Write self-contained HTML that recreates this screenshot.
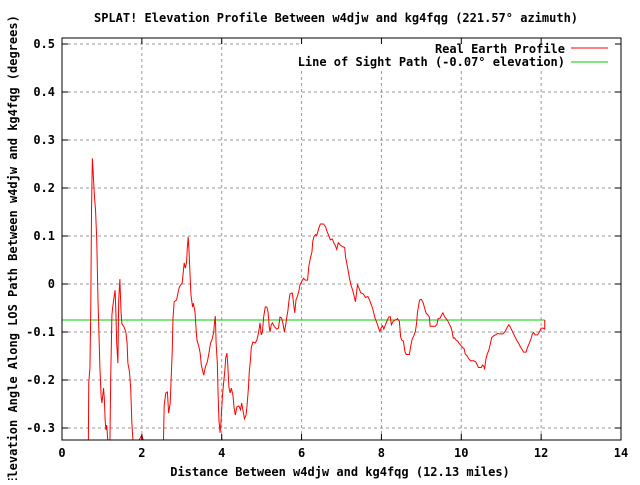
<!DOCTYPE html>
<html><head><meta charset="utf-8"><style>
body{margin:0;background:#fff}
svg text{font-family:"DejaVu Sans Mono","Liberation Mono",monospace;font-size:12px;font-weight:bold;fill:#000}
</style></head><body>
<svg id="chart" width="640" height="480" viewBox="0 0 640 480" xmlns="http://www.w3.org/2000/svg">
<defs><clipPath id="clip"><rect x="62" y="38" width="559" height="402"/></clipPath></defs>
<rect width="640" height="480" fill="#fff"/>
<g id="grid"></g>
<rect x="300" y="39" width="320" height="30" fill="#fff"/>
<g id="series" clip-path="url(#clip)"></g>
<rect x="62" y="38" width="559" height="402" fill="none" stroke="#000" stroke-width="1"/>
<g id="ticks"></g>
<text x="336" y="22" text-anchor="middle">SPLAT! Elevation Profile Between w4djw and kg4fqg (221.57° azimuth)</text>
<text x="340" y="476" text-anchor="middle">Distance Between w4djw and kg4fqg (12.13 miles)</text>
<text transform="translate(17,250) rotate(-90)" text-anchor="middle">Elevation Angle Along LOS Path Between w4djw and kg4fqg (degrees)</text>
<g>
<text x="565" y="53" text-anchor="end">Real Earth Profile</text>
<line x1="571" y1="48" x2="608" y2="48" stroke="#f00" stroke-width="1"/>
<text x="565" y="66" text-anchor="end">Line of Sight Path (-0.07° elevation)</text>
<line x1="571" y1="62" x2="608" y2="62" stroke="#0c0" stroke-width="1"/>
</g>
</svg>
<script>
const xTicks=[0,2,4,6,8,10,12,14];
const yTicks=[0.5,0.4,0.3,0.2,0.1,0,-0.1,-0.2,-0.3];
const yTickLabels=["0.5","0.4","0.3","0.2","0.1","0","-0.1","-0.2","-0.3"];
const distances=[0.66,0.67,0.70,0.72,0.74,0.76,0.78,0.81,0.84,0.87,0.90,0.93,0.95,0.98,1.0,1.04,1.06,1.08,1.10,1.12,1.15,1.20,1.22,1.25,1.27,1.30,1.33,1.35,1.37,1.40,1.42,1.45,1.46,1.48,1.50,1.55,1.60,1.63,1.65,1.69,1.72,1.75,1.78,1.90,1.95,2.0,2.05,2.54,2.56,2.60,2.64,2.67,2.71,2.73,2.76,2.78,2.81,2.87,2.91,2.94,3.01,3.06,3.09,3.12,3.14,3.16,3.18,3.21,3.23,3.27,3.29,3.33,3.36,3.38,3.43,3.46,3.49,3.55,3.59,3.64,3.68,3.72,3.76,3.80,3.82,3.84,3.86,3.89,3.91,3.93,3.96,3.98,4.02,4.05,4.08,4.10,4.13,4.15,4.18,4.21,4.24,4.28,4.31,4.34,4.38,4.43,4.47,4.50,4.54,4.57,4.61,4.64,4.67,4.69,4.72,4.74,4.78,4.84,4.88,4.91,4.94,4.96,4.99,5.02,5.05,5.09,5.13,5.16,5.19,5.21,5.24,5.27,5.32,5.38,5.42,5.46,5.50,5.53,5.57,5.61,5.63,5.66,5.68,5.71,5.74,5.77,5.81,5.83,5.86,5.89,5.93,5.96,6.02,6.05,6.09,6.15,6.18,6.22,6.26,6.28,6.31,6.35,6.38,6.43,6.47,6.55,6.60,6.64,6.68,6.72,6.77,6.81,6.84,6.88,6.92,6.97,7.02,7.08,7.10,7.14,7.17,7.20,7.24,7.28,7.31,7.35,7.38,7.40,7.44,7.48,7.55,7.60,7.66,7.70,7.74,7.78,7.81,7.84,7.89,7.93,7.96,7.99,8.03,8.06,8.10,8.15,8.18,8.22,8.25,8.29,8.34,8.38,8.40,8.45,8.48,8.51,8.55,8.59,8.62,8.70,8.73,8.77,8.81,8.85,8.88,8.90,8.94,8.96,9.00,9.05,9.08,9.12,9.16,9.20,9.22,9.29,9.35,9.39,9.42,9.47,9.51,9.54,9.58,9.62,9.67,9.71,9.74,9.77,9.80,9.83,9.87,9.91,9.95,9.99,10.03,10.07,10.10,10.14,10.18,10.23,10.31,10.36,10.39,10.43,10.50,10.53,10.57,10.58,10.62,10.65,10.69,10.73,10.76,10.81,10.86,10.91,10.95,10.99,11.04,11.10,11.15,11.19,11.23,11.27,11.31,11.35,11.40,11.44,11.48,11.52,11.56,11.62,11.66,11.70,11.75,11.78,11.81,11.85,11.91,11.95,12.0,12.05,12.09,12.09];
const angles=[-0.33,-0.206,-0.175,-0.054,0.158,0.262,0.233,0.185,0.154,0.092,-0.029,-0.117,-0.175,-0.235,-0.248,-0.217,-0.238,-0.283,-0.304,-0.294,-0.33,-0.33,-0.196,-0.065,-0.048,-0.029,-0.013,-0.06,-0.123,-0.165,-0.033,0.01,-0.016,-0.06,-0.083,-0.089,-0.1,-0.123,-0.165,-0.183,-0.217,-0.29,-0.33,-0.33,-0.322,-0.315,-0.33,-0.33,-0.252,-0.227,-0.225,-0.269,-0.248,-0.204,-0.142,-0.071,-0.037,-0.033,-0.016,-0.006,0.002,0.044,0.033,0.046,0.077,0.098,0.071,0.013,-0.023,-0.048,-0.04,-0.058,-0.096,-0.117,-0.131,-0.144,-0.169,-0.19,-0.173,-0.162,-0.144,-0.123,-0.115,-0.1,-0.079,-0.067,-0.123,-0.165,-0.231,-0.283,-0.31,-0.288,-0.231,-0.204,-0.179,-0.154,-0.144,-0.165,-0.215,-0.227,-0.217,-0.231,-0.258,-0.273,-0.256,-0.254,-0.262,-0.248,-0.267,-0.281,-0.273,-0.248,-0.215,-0.183,-0.158,-0.133,-0.121,-0.123,-0.117,-0.106,-0.092,-0.081,-0.106,-0.1,-0.069,-0.048,-0.048,-0.058,-0.089,-0.1,-0.085,-0.081,-0.089,-0.094,-0.092,-0.069,-0.071,-0.081,-0.1,-0.081,-0.069,-0.054,-0.037,-0.021,-0.019,-0.019,-0.048,-0.06,-0.033,-0.027,-0.016,-0.002,0.008,0.012,0.008,0.008,0.036,0.054,0.067,0.088,0.099,0.103,0.101,0.116,0.125,0.125,0.119,0.109,0.101,0.092,0.094,0.085,0.081,0.072,0.086,0.081,0.078,0.076,0.057,0.04,0.026,0.012,-0.003,-0.013,-0.023,-0.037,-0.016,-0.002,-0.009,-0.018,-0.021,-0.028,-0.026,-0.033,-0.042,-0.051,-0.061,-0.071,-0.082,-0.092,-0.099,-0.092,-0.087,-0.094,-0.085,-0.075,-0.069,-0.068,-0.085,-0.078,-0.075,-0.074,-0.072,-0.078,-0.11,-0.117,-0.119,-0.141,-0.147,-0.147,-0.131,-0.115,-0.108,-0.099,-0.082,-0.061,-0.04,-0.033,-0.032,-0.04,-0.05,-0.061,-0.064,-0.069,-0.088,-0.088,-0.088,-0.084,-0.072,-0.071,-0.064,-0.06,-0.068,-0.072,-0.078,-0.085,-0.09,-0.099,-0.113,-0.112,-0.117,-0.119,-0.124,-0.128,-0.132,-0.135,-0.146,-0.149,-0.155,-0.16,-0.16,-0.162,-0.167,-0.174,-0.174,-0.169,-0.172,-0.178,-0.155,-0.146,-0.138,-0.124,-0.112,-0.108,-0.106,-0.103,-0.104,-0.104,-0.104,-0.099,-0.09,-0.085,-0.09,-0.097,-0.104,-0.111,-0.119,-0.124,-0.131,-0.136,-0.142,-0.142,-0.132,-0.124,-0.113,-0.104,-0.101,-0.106,-0.106,-0.101,-0.092,-0.092,-0.094,-0.075];
const losDistance=[0,12.09];
const losAngle=[-0.075,-0.075];

const X0=62,X1=621,Y0=440,Y1=38,xMin=0,xMax=14,yMin=-0.325,yMax=0.5125;
const sx=d=>X0+(d-xMin)/(xMax-xMin)*(X1-X0);
const sy=a=>Y0-(a-yMin)/(yMax-yMin)*(Y0-Y1);
const NS="http://www.w3.org/2000/svg";
function mk(tag,attrs,parent){const e=document.createElementNS(NS,tag);for(const k in attrs)e.setAttribute(k,attrs[k]);parent.appendChild(e);return e;}
const grid=document.getElementById('grid'),ticks=document.getElementById('ticks'),series=document.getElementById('series');
xTicks.forEach((t,i)=>{
  const x=sx(t);
  if(i>0&&i<xTicks.length-1){const g=mk('line',{x1:x,y1:Y0,x2:x,y2:Y1,stroke:'#999','stroke-dasharray':'3,3'},grid);
  
  }
  const a=mk('line',{x1:x,y1:Y0,x2:x,y2:Y0-6,stroke:'#000'},ticks);
  
  
  const b=mk('line',{x1:x,y1:Y1,x2:x,y2:Y1+6,stroke:'#000'},ticks);
  
  
  const l=mk('text',{x:x,y:Y0+17,'text-anchor':'middle'},ticks);l.textContent=String(t);
  
  
});
yTicks.forEach((t,i)=>{
  const y=sy(t);
  const g=mk('line',{x1:X0,y1:y,x2:X1,y2:y,stroke:'#999','stroke-dasharray':'3,3'},grid);
  
  
  const a=mk('line',{x1:X0,y1:y,x2:X0+6,y2:y,stroke:'#000'},ticks);
  
  
  const b=mk('line',{x1:X1,y1:y,x2:X1-6,y2:y,stroke:'#000'},ticks);
  
  
  const l=mk('text',{x:X0-7,y:y+4,'text-anchor':'end'},ticks);l.textContent=yTickLabels[i];
  
  
});
const los=mk('polyline',{points:losDistance.map((d,i)=>sx(d)+','+sy(losAngle[i])).join(' '),fill:'none',stroke:'#0c0','stroke-width':1},series);


const prof=mk('polyline',{points:distances.map((d,i)=>sx(d)+','+sy(angles[i])).join(' '),fill:'none',stroke:'#f00','stroke-width':1},series);


</script>
</body></html>
